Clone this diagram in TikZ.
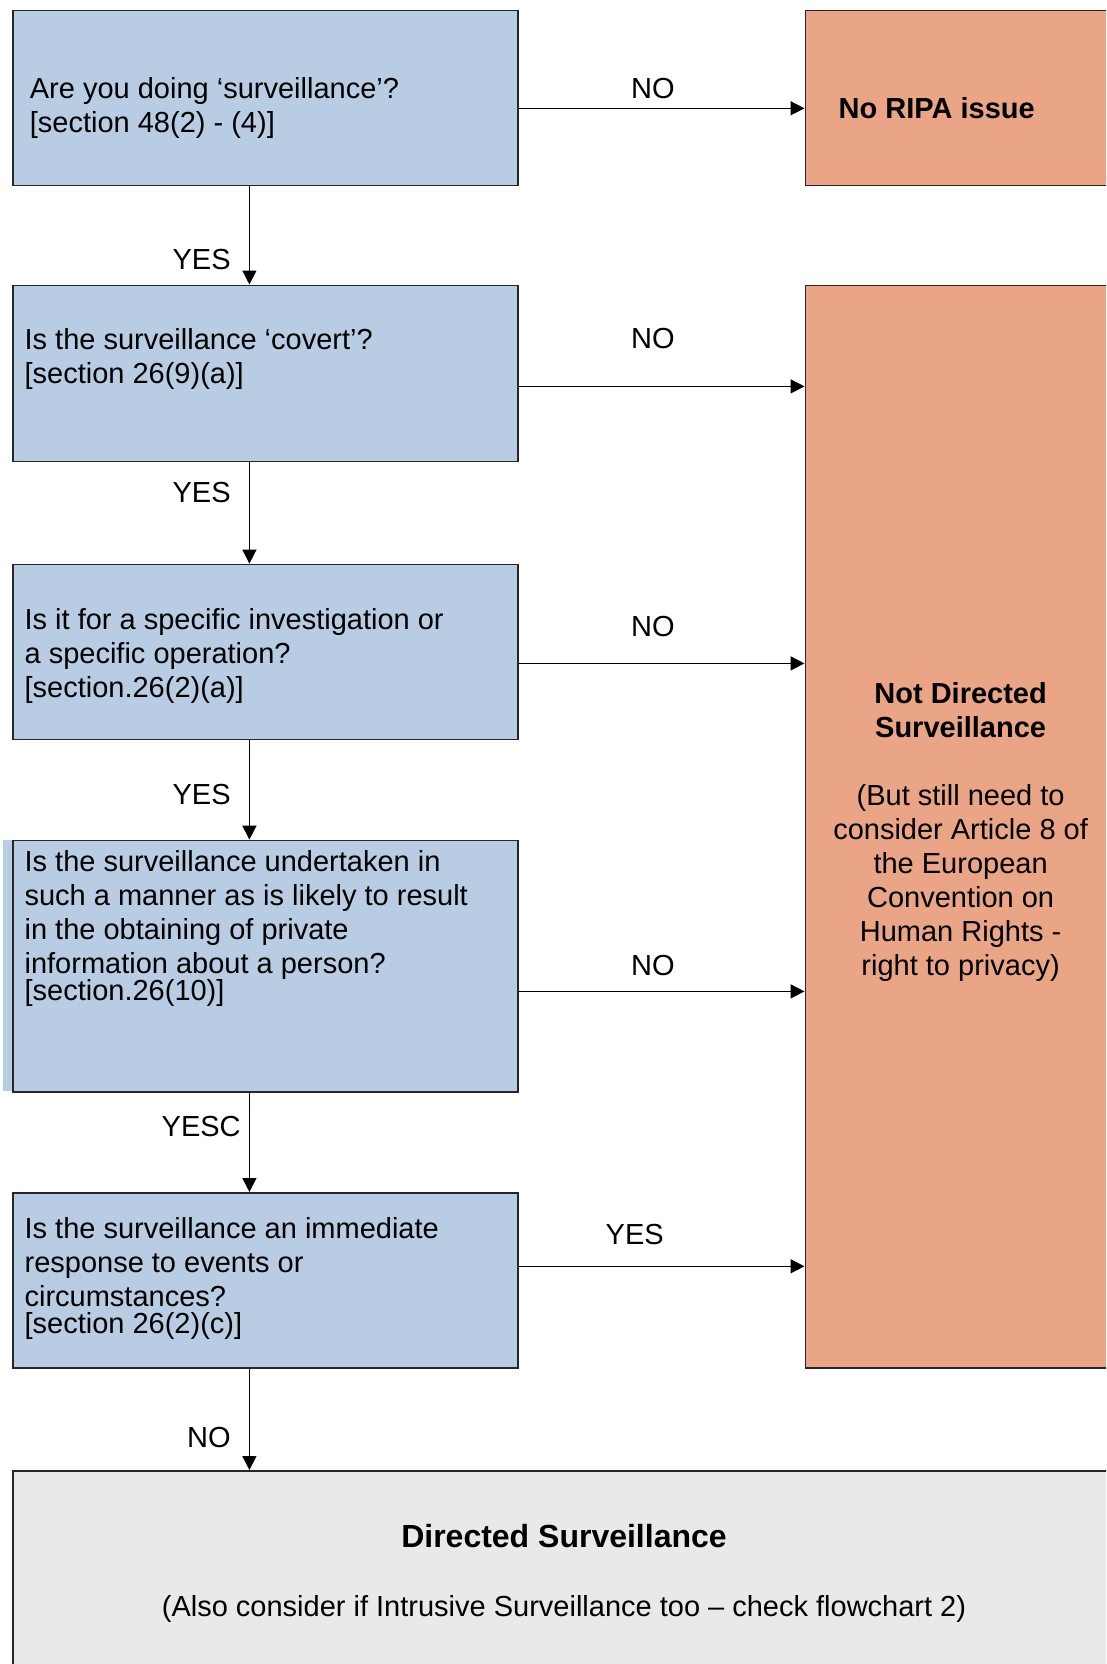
\documentclass[tikz,border=0pt]{standalone}
\usepackage{fontspec}
\setmainfont{Liberation Sans}
\usetikzlibrary{arrows.meta}

\definecolor{qblue}{RGB}{184,204,228}
\definecolor{nosalmon}{RGB}{234,164,134}
\definecolor{endgray}{RGB}{233,233,233}

\tikzset{
  qbox/.style={draw=black!85, line width=1.6pt, fill=qblue, anchor=north west,
    minimum width=505pt, inner sep=0pt},
  outbox/.style={draw=black!85, line width=1.6pt, fill=nosalmon, anchor=north west,
    minimum width=312.5pt, inner sep=0pt},
  qtext/.style={anchor=west, align=left, inner sep=0pt, font=\fontsize{29}{34}\selectfont},
  outtext/.style={align=center, inner sep=0pt, font=\fontsize{29}{34}\selectfont},
  flow/.style={line width=1.5pt, -{Triangle[length=14pt,width=14pt]}},
  lbl/.style={inner sep=0pt, font=\fontsize{29}{34}\selectfont},
}

\begin{document}
\begin{tikzpicture}[x=1pt,y=-1pt]
  \useasboundingbox (0,0) rectangle (1106,1664);
  \clip (0,0) rectangle (1106,1664);

  % Fragen
  \fill[qblue] (3,839.6) rectangle (12,1091);
  \node[qbox, minimum height=175pt] (q1) at (12,9.6) {};
  \node[qbox, minimum height=176pt] (q2) at (12,284.5) {};
  \node[qbox, minimum height=175pt] (q3) at (12,563.6) {};
  \node[qbox, minimum height=251.4pt] (q4) at (12,839.6) {};
  \node[qbox, minimum height=175pt] (q5) at (12,1192) {};

  \node[qtext] (q1t) at (29.7,108) {Are you doing ‘surveillance’?\\{}[section 48(2) - (4)]};
  \node[qtext] (q2t) at (24.4,358.7) {Is the surveillance ‘covert’?\\{}[section 26(9)(a)]};
  \node[qtext] (q3t) at (24.4,656) {Is it for a specific investigation or\\a specific operation?\\{}[section.26(2)(a)]};
  \node[qtext] (q4t) at (24.4,928) {Is the surveillance undertaken in\\such a manner as is likely to result\\in the obtaining of private\\information about a person?\\[-7pt]{}[section.26(10)]};
  \node[qtext] (q5t) at (24.4,1278) {Is the surveillance an immediate\\response to events or\\circumstances?\\[-7pt]{}[section 26(2)(c)]};

  % Ergebnisse
  \node[outbox, minimum height=175.1pt] (o1) at (804.5,9.6) {};
  \node[lbl, anchor=west, font=\fontsize{29}{34}\selectfont\bfseries] (o1t) at (838.5,108) {No RIPA issue};
  \node[outbox, minimum height=1082.5pt] (o2) at (804.5,284.5) {};
  \node[outtext] (o2t) at (960.6,831.5) {\textbf{Not Directed}\\\textbf{Surveillance}\\[34pt](But still need to\\consider Article 8 of\\the European\\Convention on\\Human Rights -\\right to privacy)};

  \node[draw=black!85, line width=1.6pt, fill=endgray, anchor=north west,
    minimum width=1104pt, minimum height=250pt] (ds) at (12,1470) {};
  \node[lbl, font=\fontsize{32}{36}\selectfont\bfseries] (dst) at (564,1536) {Directed Surveillance};
  \node[lbl] (dsn) at (564,1609) {(Also consider if Intrusive Surveillance too – check flowchart 2)};

  % Pfeile nach unten
  \draw[flow] (249.4,0 |- q1.south) -- node[lbl, left=18pt, pos=.745] (y1) {YES} (249.4,0 |- q2.north);
  \draw[flow] (249.4,0 |- q2.south) -- node[lbl, left=18pt, pos=.30] (y2) {YES} (249.4,0 |- q3.north);
  \draw[flow] (249.4,0 |- q3.south) -- node[lbl, left=18pt, pos=.55] (y3) {YES} (249.4,0 |- q4.north);
  \draw[flow] (249.4,0 |- q4.south) -- node[lbl, left=8pt, pos=.34] (y4) {YESC} (249.4,0 |- q5.north);
  \draw[flow] (249.4,0 |- q5.south) -- node[lbl, left=18pt, pos=.68] (y5) {NO} (249.4,0 |- ds.north);

  % Pfeile nach rechts
  \draw[flow] (q1.east |- 0,108.3) -- node[lbl, above=8.6pt, pos=.47] (n1) {NO} (o1.west |- 0,108.3);
  \draw[flow] (q2.east |- 0,386.4) -- node[lbl, above=36.6pt, pos=.47] (n2) {NO} (o2.west |- 0,386.4);
  \draw[flow] (q3.east |- 0,663.4) -- node[lbl, above=25.6pt, pos=.47] (n3) {NO} (o2.west |- 0,663.4);
  \draw[flow] (q4.east |- 0,991.4) -- node[lbl, above=14.6pt, pos=.47] (n4) {NO} (o2.west |- 0,991.4);
  \draw[flow] (q5.east |- 0,1266.3) -- node[lbl, above=20.6pt, pos=.406] (n5) {YES} (o2.west |- 0,1266.3);
\end{tikzpicture}
\end{document}
